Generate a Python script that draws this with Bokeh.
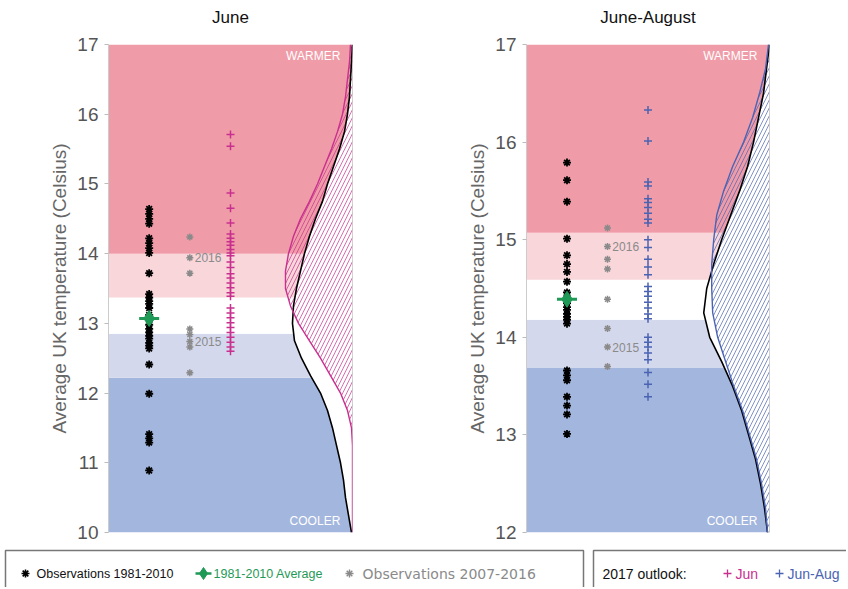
from bokeh.plotting import figure
from bokeh.layouts import column, row
from bokeh.models import Range1d, FixedTicker, Title
from bokeh.embed import file_html
from bokeh.resources import INLINE
from bokeh.core.properties import value

FONT = "Liberation Sans"

# ---------------- data ----------------
band_colors = ["#a3b6dd", "#d4d8ec", "#ffffff", "#f8d6da", "#f09ca8"]

jun_bands = [10.0, 12.22, 12.85, 13.37, 14.0, 17.0]
jun_obs = [14.64, 14.57, 14.50, 14.43, 14.22, 14.15, 14.08, 14.01, 13.72, 13.42,
           13.37, 13.32, 13.28, 13.22, 13.12, 13.05, 12.98, 12.92, 12.87, 12.82,
           12.78, 12.72, 12.68, 12.64, 12.41, 11.99, 11.41, 11.35, 11.29, 10.89]
jun_avg = 13.07
jun_recent = [14.24, 13.94, 13.72, 12.92, 12.84, 12.74, 12.66, 12.29]
jun_recent_years = ["2016", "2015"]
jun_recent_year_vals = [13.94, 12.74]
jun_fc = [15.71, 15.54, 14.87, 14.65, 14.44, 14.28, 14.22, 14.17, 14.12, 14.06,
          14.01, 13.97, 13.88, 13.80, 13.71, 13.65, 13.58, 13.51, 13.44, 13.39,
          13.22, 13.15, 13.08, 13.01, 12.94, 12.87, 12.80, 12.73, 12.66, 12.60]

jun_clim_T = [17.0, 16.75, 16.5, 16.25, 16.0, 15.75, 15.5, 15.25, 15.0, 14.75, 14.5,
              14.25, 14.0, 13.75, 13.5, 13.25, 13.0, 12.75, 12.5, 12.25, 12.0, 11.75,
              11.5, 11.25, 11.0, 10.75, 10.5, 10.25, 10.0]
jun_clim_d = [0.00, 0.01, 0.02, 0.03, 0.05, 0.08, 0.13, 0.19, 0.25, 0.30, 0.37,
              0.43, 0.48, 0.52, 0.56, 0.59, 0.60, 0.58, 0.51, 0.42, 0.32, 0.25,
              0.20, 0.16, 0.12, 0.09, 0.07, 0.04, 0.01]
jun_fc_T = [17.0, 16.75, 16.5, 16.25, 16.0, 15.75, 15.5, 15.25, 15.0, 14.75, 14.5,
            14.25, 14.0, 13.75, 13.5, 13.25, 13.0, 12.75, 12.5, 12.25, 12.0, 11.75,
            11.5, 11.25, 10.0]
jun_fc_d = [0.02, 0.03, 0.05, 0.07, 0.10, 0.15, 0.21, 0.28, 0.35, 0.43, 0.52,
            0.59, 0.64, 0.67, 0.67, 0.62, 0.54, 0.43, 0.32, 0.22, 0.12, 0.05,
            0.01, 0.00, 0.00]

jja_bands = [12.0, 13.69, 14.18, 14.59, 15.07, 17.0]
jja_obs = [15.79, 15.61, 15.39, 15.01, 14.84, 14.75, 14.67, 14.57, 14.46, 14.42,
           14.39, 14.35, 14.31, 14.28, 14.24, 14.21, 14.18, 14.14, 13.66, 13.61,
           13.56, 13.39, 13.30, 13.21, 13.01]
jja_avg = 14.39
jja_recent = [15.12, 14.93, 14.80, 14.70, 14.39, 14.09, 13.90, 13.70]
jja_recent_years = ["2016", "2015"]
jja_recent_year_vals = [14.93, 13.90]
jja_fc = [16.33, 16.01, 15.59, 15.55, 15.42, 15.38, 15.33, 15.27, 15.21, 15.17,
          15.00, 14.92, 14.80, 14.72, 14.64, 14.52, 14.47, 14.42, 14.36, 14.30,
          14.24, 14.19, 14.00, 13.95, 13.90, 13.84, 13.77, 13.64, 13.52, 13.39]

jja_clim_T = [17.0, 16.75, 16.5, 16.25, 16.0, 15.75, 15.5, 15.25, 15.0, 14.75, 14.5,
              14.25, 14.0, 13.75, 13.5, 13.25, 13.0, 12.75, 12.5, 12.25, 12.0]
jja_clim_d = [0.00, 0.03, 0.06, 0.11, 0.16, 0.22, 0.30, 0.39, 0.48, 0.56, 0.63,
              0.66, 0.60, 0.48, 0.37, 0.28, 0.21, 0.14, 0.09, 0.05, 0.02]
jja_fc_T = jja_clim_T
jja_fc_d = [0.01, 0.04, 0.10, 0.17, 0.26, 0.37, 0.46, 0.53, 0.56, 0.58, 0.58,
            0.57, 0.52, 0.44, 0.36, 0.27, 0.20, 0.13, 0.08, 0.04, 0.02]

jun_color = "#c8308f"
jja_color = "#4b63b3"
green = "#1f9a56"
grey_pt = "#8a8a8a"

XMAX = 6.0
DSCALE = 2.46  # x units per density unit


def panel(title, ylo, bands, obs, avg, recent, years, year_vals, fc, fc_col,
          hatch_col, cT, cd, fT, fd, width, bl, br, warm_off):
    p = figure(width=width, height=545, x_range=Range1d(0, XMAX),
               y_range=Range1d(ylo, 17), output_backend="svg",
               toolbar_location=None, x_axis_location=None,
               min_border_left=bl, min_border_right=br, min_border_top=43,
               min_border_bottom=13, outline_line_color=None,
               background_fill_color="white", border_fill_color="white")
    p.grid.visible = False
    p.title.text = title
    p.title.align = "center"
    p.title.text_font = FONT
    p.title.text_font_size = "17px"
    p.title.text_font_style = "normal"
    p.title.text_color = "#111111"
    # spacer between title and frame
    p.add_layout(Title(text="\u00a0", text_font_size="1px", text_color="white"), "above")

    ax = p.yaxis[0]
    ax.ticker = FixedTicker(ticks=list(range(int(ylo), 18)))
    ax.major_label_text_font = FONT
    ax.major_label_text_font_size = "19px"
    ax.major_label_text_color = "#555555"
    ax.axis_label = "Average UK temperature (Celsius)"
    ax.axis_label_text_font = FONT
    ax.axis_label_text_font_size = "19px"
    ax.axis_label_text_font_style = "normal"
    ax.axis_label_text_color = "#666666"
    ax.axis_line_color = "#cccccc"
    ax.major_tick_line_color = "#bbbbbb"
    ax.major_tick_out = 4
    ax.major_tick_in = 0
    ax.minor_tick_line_color = None
    ax.major_label_standoff = 6
    ax.axis_label_standoff = 4

    p.quad(left=0, right=XMAX, bottom=bands[:-1], top=bands[1:],
           fill_color=band_colors, line_color=None)

    # climatology distribution (white fill)
    cx = [XMAX - d * DSCALE for d in cd] + [XMAX, XMAX]
    cy = list(cT) + [cT[-1], cT[0]]
    p.patch(cx, cy, fill_color="white", line_color=None)
    # forecast distribution (hatched)
    fx = [XMAX - d * DSCALE for d in fd] + [XMAX, XMAX]
    fy = list(fT) + [fT[-1], fT[0]]
    p.patch(fx, fy, fill_color=None, line_color=None, hatch_pattern="/",
            hatch_color=hatch_col, hatch_scale=8, hatch_weight=1, hatch_alpha=0.7)
    p.segment(x0=XMAX, x1=XMAX, y0=ylo, y1=17, line_color="#b0b0b0", line_width=1)
    p.line([XMAX - d * DSCALE for d in cd], cT, line_color="black", line_width=1.6)
    p.line([XMAX - d * DSCALE for d in fd], fT, line_color=fc_col, line_width=1.4)

    p.text(x=[XMAX - 0.3], y=[17 - warm_off], text=["WARMER"], text_color="white",
           text_font=value(FONT), text_font_size="12px", text_align="right",
           text_baseline="middle")
    p.text(x=[XMAX - 0.3], y=[ylo + warm_off], text=["COOLER"], text_color="white",
           text_font=value(FONT), text_font_size="12px", text_align="right",
           text_baseline="middle")

    p.scatter(x=[1] * len(obs), y=obs, marker="asterisk", size=8,
              line_color="black", line_width=1.8)
    p.scatter(x=[1], y=[avg], marker="dash", size=20, line_color=green, line_width=3)
    p.scatter(x=[1], y=[avg], marker="diamond", size=16, fill_color=green,
              line_color=green)
    p.scatter(x=[2] * len(recent), y=recent, marker="asterisk", size=7,
              line_color=grey_pt, line_width=1.5)
    p.text(x=[2.12] * len(years), y=year_vals, text=years, text_color="#8a8a8a",
           text_font=value(FONT), text_font_size="12px", text_baseline="middle")
    p.scatter(x=[3] * len(fc), y=fc, marker="cross", size=8, line_color=fc_col,
              line_width=1.5)
    return p


p1 = panel("June", 10, jun_bands, jun_obs, jun_avg, jun_recent, jun_recent_years,
           jun_recent_year_vals, jun_fc, jun_color, jun_color, jun_clim_T,
           jun_clim_d, jun_fc_T, jun_fc_d, 428, 108, 76, 0.17)
p2 = panel("June-August", 12, jja_bands, jja_obs, jja_avg, jja_recent,
           jja_recent_years, jja_recent_year_vals, jja_fc, jja_color, jja_color,
           jja_clim_T, jja_clim_d, jja_fc_T, jja_fc_d, 418, 98, 77, 0.12)

# ---------------- legend strip ----------------
p3 = figure(width=846, height=42, x_range=Range1d(0, 846), y_range=Range1d(42, 0),
            output_backend="svg", toolbar_location=None, x_axis_location=None,
            y_axis_location=None, min_border=0, outline_line_color=None)
p3.grid.visible = False
p3.quad(left=[5, 593], right=[583, 850], top=[5, 5], bottom=[50, 50],
        fill_color=None, line_color="#777777", line_width=1.5)
leg_text = ["Observations 1981-2010", "1981-2010 Average"]
leg_colors = ["#111111", green]
p3.text(x=[36, 213], y=[28, 28], text=leg_text, text_color=leg_colors,
        text_font=value(FONT), text_font_size="12.5px", text_baseline="middle")
p3.text(x=[362], y=[28], text=["Observations 2007-2016"], text_color="#8a8a8a",
        text_font=value("DejaVu Sans"), text_font_size="14px", text_baseline="middle")
p3.text(x=[602, 735, 787], y=[28, 28, 28], text=["2017 outlook:", "Jun", "Jun-Aug"],
        text_color=["#111111", jun_color, jja_color],
        text_font=value(FONT), text_font_size="14px", text_baseline="middle")
p3.scatter(x=[25], y=[28], marker="asterisk", size=8, line_color="black", line_width=1.6)
p3.scatter(x=[203], y=[28], marker="dash", size=16, line_color=green, line_width=2.5)
p3.scatter(x=[203], y=[28], marker="diamond", size=12, fill_color=green, line_color=green)
p3.scatter(x=[349], y=[28], marker="asterisk", size=8, line_color="#8a8a8a", line_width=1.4)
p3.scatter(x=[727, 779], y=[28, 28], marker="cross", size=8,
           line_color=[jun_color, jja_color], line_width=1.3)

layout = column(row(p1, p2), p3)
open("out.html", "w").write(file_html(layout, INLINE))
